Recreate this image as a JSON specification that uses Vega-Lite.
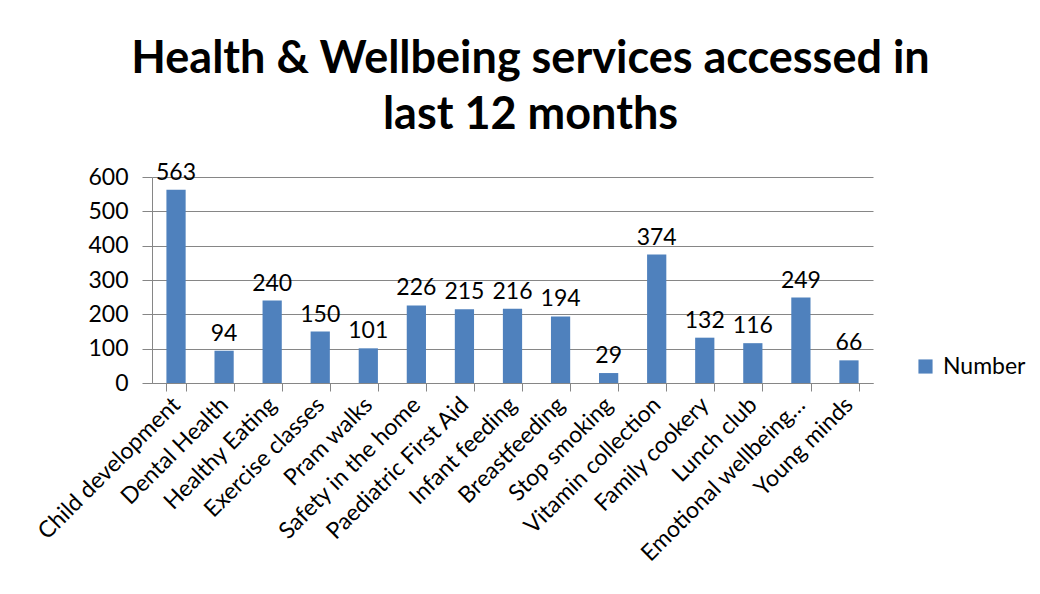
{
  "$schema": "https://vega.github.io/schema/vega-lite/v6.json",
  "autosize": {"type": "none"},
  "width": 721,
  "height": 206,
  "padding": {"left": 152, "top": 177, "right": 167, "bottom": 211},
  "background": "white",
  "title": {
    "text": ["Health & Wellbeing services accessed in", "last 12 months"],
    "font": "Lato",
    "fontSize": 45,
    "fontWeight": "bold",
    "color": "#000000",
    "lineHeight": 56,
    "anchor": "middle",
    "dx": 18,
    "offset": 24
  },
  "data": {
    "values": [
      {"service": "Child development", "count": 563, "series": "Number"},
      {"service": "Dental Health", "count": 94, "series": "Number"},
      {"service": "Healthy Eating", "count": 240, "series": "Number"},
      {"service": "Exercise classes", "count": 150, "series": "Number"},
      {"service": "Pram walks", "count": 101, "series": "Number"},
      {"service": "Safety in the home", "count": 226, "series": "Number"},
      {"service": "Paediatric First Aid", "count": 215, "series": "Number"},
      {"service": "Infant feeding", "count": 216, "series": "Number"},
      {"service": "Breastfeeding", "count": 194, "series": "Number"},
      {"service": "Stop smoking", "count": 29, "series": "Number"},
      {"service": "Vitamin collection", "count": 374, "series": "Number"},
      {"service": "Family cookery", "count": 132, "series": "Number"},
      {"service": "Lunch club", "count": 116, "series": "Number"},
      {"service": "Emotional wellbeing…", "count": 249, "series": "Number"},
      {"service": "Young minds", "count": 66, "series": "Number"}
    ]
  },
  "encoding": {
    "x": {
      "field": "service",
      "type": "nominal",
      "sort": null,
      "scale": {"paddingInner": 0.6, "paddingOuter": 0.3},
      "axis": {
        "title": null,
        "labelAngle": -45,
        "labelAlign": "right",
        "labelBaseline": "middle",
        "labelFont": "Lato",
        "labelFontSize": 23,
        "labelColor": "#000000",
        "labelPadding": 10,
        "tickBand": "extent",
        "tickSize": 8,
        "tickColor": "#868686",
        "domainColor": "#868686",
        "labelOverlap": false,
        "labelLimit": 300
      }
    },
    "y": {
      "field": "count",
      "type": "quantitative",
      "scale": {"domain": [0, 600], "nice": false},
      "axis": {
        "title": null,
        "values": [0, 100, 200, 300, 400, 500, 600],
        "labelFont": "Lato",
        "labelFontSize": 23,
        "labelColor": "#000000",
        "labelPadding": 14,
        "tickSize": 10,
        "tickColor": "#868686",
        "domainColor": "#868686",
        "gridColor": "#868686",
        "grid": true
      }
    }
  },
  "layer": [
    {
      "mark": {"type": "bar", "color": "#4F81BD"},
      "encoding": {
        "color": {
          "field": "series",
          "type": "nominal",
          "scale": {"range": ["#4F81BD"]},
          "legend": {
            "title": null,
            "orient": "none",
            "legendX": 762,
            "legendY": 178,
            "symbolType": "square",
            "symbolSize": 200,
            "symbolStrokeWidth": 0,
            "labelFont": "Lato",
            "labelFontSize": 23,
            "labelColor": "#000000",
            "labelOffset": 6
          }
        }
      }
    },
    {
      "mark": {"type": "text", "dy": -17, "font": "Lato", "fontSize": 23, "color": "#000000"},
      "encoding": {"text": {"field": "count", "type": "quantitative"}}
    }
  ],
  "config": {"view": {"stroke": null}}
}
